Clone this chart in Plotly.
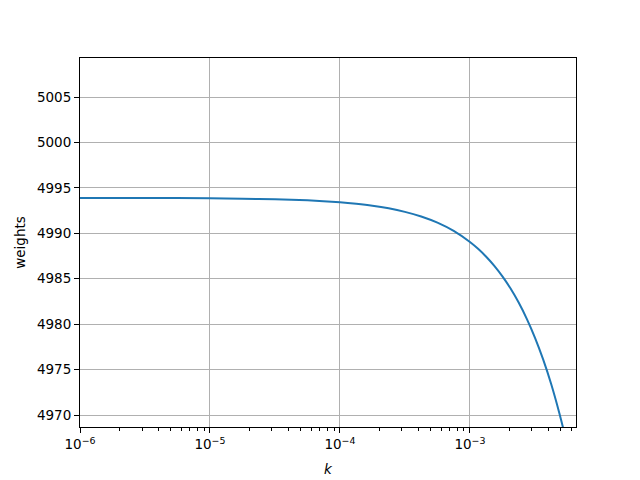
import plotly.graph_objects as go

k_values = [1.000e-6, 3.162e-6, 1.000e-5, 1.778e-5, 3.162e-5, 5.623e-5,
            1.000e-4, 1.334e-4, 1.778e-4, 2.371e-4, 3.162e-4, 4.217e-4, 5.623e-4, 7.499e-4,
            1.000e-3, 1.155e-3, 1.334e-3, 1.540e-3, 1.778e-3, 2.054e-3, 2.371e-3, 2.738e-3,
            3.162e-3, 3.652e-3, 4.217e-3, 4.870e-3, 5.233e-3, 5.623e-3]
weights = [4993.90, 4993.89, 4993.86, 4993.81, 4993.75, 4993.63,
           4993.41, 4993.25, 4993.04, 4992.75, 4992.36, 4991.85, 4991.17, 4990.26,
           4989.04, 4988.29, 4987.42, 4986.42, 4985.26, 4983.92, 4982.38, 4980.59,
           4978.53, 4976.15, 4973.41, 4970.23, 4968.46, 4966.57]

x_tickvals = [1e-6, 1e-5, 1e-4, 1e-3]
x_ticktext = ["10<sup>−6</sup>", "10<sup>−5</sup>", "10<sup>−4</sup>", "10<sup>−3</sup>"]
y_tickvals = [4970, 4975, 4980, 4985, 4990, 4995, 5000, 5005]

fig = go.Figure()
fig.add_trace(go.Scatter(x=k_values, y=weights, mode="lines",
                         line=dict(color="#1f77b4", width=2, shape="spline", smoothing=0.6),
                         showlegend=False))

font = dict(family="DejaVu Sans", size=13.5, color="black")
# page body has an 8px margin, so the figure is placed at (8, 8)
fig.update_layout(
    width=632, height=472,
    margin=dict(l=72, r=64, t=50, b=53, autoexpand=False),
    paper_bgcolor="white", plot_bgcolor="white",
    font=font,
    xaxis=dict(type="log", range=[-6, -2.184], automargin=False,
               tickvals=x_tickvals, ticktext=x_ticktext,
               ticks="outside", ticklen=5, tickwidth=1, tickcolor="black",
               showline=True, linecolor="black", linewidth=1, mirror=True,
               showgrid=True, gridcolor="#b0b0b0", gridwidth=1,
               zeroline=False,
               minor=dict(ticks="outside", ticklen=3, tickcolor="black", dtick="D1", showgrid=False),
               title=dict(text="<i>k</i>", font=font, standoff=13)),
    yaxis=dict(range=[4968.68, 5009.3], tickvals=y_tickvals, automargin=False,
               ticks="outside", ticklen=5, tickwidth=1, tickcolor="black",
               showline=True, linecolor="black", linewidth=1, mirror=True,
               showgrid=True, gridcolor="#b0b0b0", gridwidth=1,
               zeroline=False,
               title=dict(text="weights", font=font, standoff=8)),
)
fig.write_html("out.html")
